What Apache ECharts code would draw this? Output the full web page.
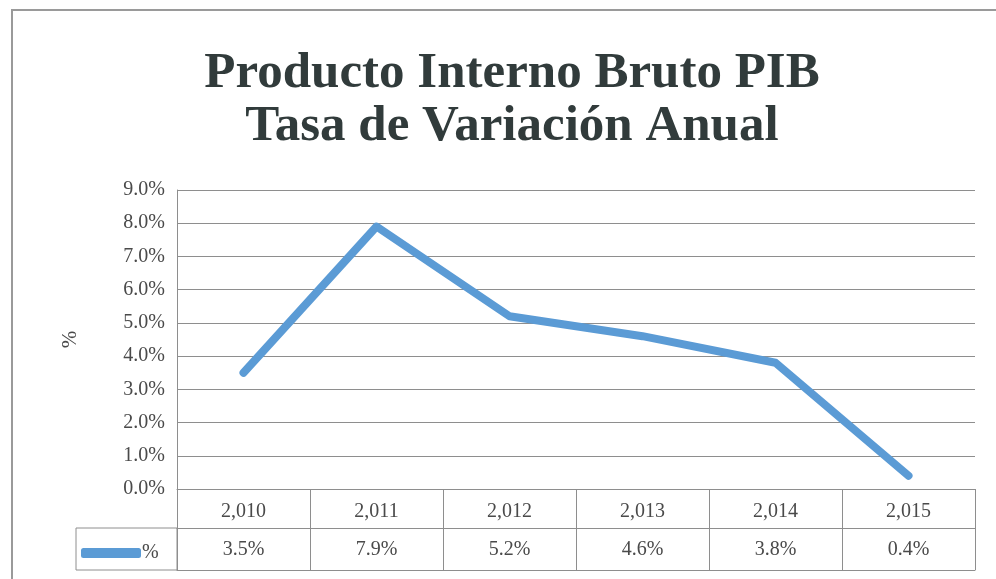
<!DOCTYPE html>
<html><head><meta charset="utf-8">
<script src="https://cdn.jsdelivr.net/npm/echarts@6/dist/echarts.min.js"></script>
<style>html,body{margin:0;padding:0;background:#fff}#c{width:996px;height:579px}</style>
</head><body><div id="c"></div>
<script>
const years = ['2,010', '2,011', '2,012', '2,013', '2,014', '2,015'];
const values = [3.5, 7.9, 5.2, 4.6, 3.8, 0.4];
const seriesName = '%';
const titleLines = ['Producto Interno Bruto PIB', 'Tasa de Variación Anual'];
const yMin = 0, yMax = 9, yStep = 1;

const valueLabels = values.map(v => v.toFixed(1) + '%');
const gridCol = '#8e8e8e';
const textCol = '#4a4a4a';
const serif = "'Liberation Serif', 'DejaVu Serif', serif";

const chart = echarts.init(document.getElementById('c'));
chart.setOption({
  backgroundColor: '#ffffff',
  animation: false,
  legend: {
    left: 76, top: 538,
    itemWidth: 60, itemHeight: 10, itemGap: 4,
    icon: 'roundRect',
    data: [seriesName],
    textStyle: { fontFamily: serif, fontSize: 20, color: textCol, padding: [0, 0, 0, -4] }
  },
  grid: { left: 177, right: 21, top: 190, bottom: 90 },
  xAxis: [
    {
      type: 'category', data: years, boundaryGap: true, position: 'bottom',
      axisLine: { show: true, lineStyle: { color: gridCol, width: 1 } },
      axisTick: { show: true, interval: 0, length: 81, lineStyle: { color: gridCol } },
      axisLabel: { interval: 0, margin: 13, fontFamily: serif, fontSize: 20, color: textCol }
    },
    {
      type: 'category', data: valueLabels, boundaryGap: true, position: 'bottom', offset: 39,
      axisLine: { show: true, lineStyle: { color: gridCol, width: 1 } },
      axisTick: { show: false },
      axisLabel: { interval: 0, margin: 12, fontFamily: serif, fontSize: 20, color: textCol }
    },
    {
      type: 'category', data: years, boundaryGap: true, position: 'bottom', offset: 81,
      axisLine: { show: true, lineStyle: { color: gridCol, width: 1 } },
      axisTick: { show: false }, axisLabel: { show: false }
    }
  ],
  yAxis: {
    type: 'value', min: yMin, max: yMax, interval: yStep,
    name: '%', nameLocation: 'middle', nameGap: 96, nameRotate: 90,
    nameTextStyle: { fontFamily: serif, fontSize: 21, color: textCol },
    axisLine: { show: true, lineStyle: { color: gridCol } },
    axisTick: { show: false },
    splitLine: { show: true, lineStyle: { color: gridCol, width: 1 } },
    axisLabel: { margin: 12, fontFamily: serif, fontSize: 20, color: textCol,
      formatter: v => v.toFixed(1) + '%' }
  },
  series: [{
    name: seriesName, type: 'line', data: values, xAxisIndex: 0,
    symbol: 'none', smooth: false,
    lineStyle: { width: 8, color: '#5b9bd5', cap: 'round', join: 'round' },
    itemStyle: { color: '#5b9bd5' }
  }],
  graphic: [
    { type: 'rect', shape: { x: 12, y: 10, width: 1000, height: 600 }, style: { fill: 'none', stroke: '#9a9a9a', lineWidth: 2 }, silent: true, z: -1 },
    { type: 'rect', shape: { x: 76, y: 528, width: 101, height: 42 }, style: { fill: 'none', stroke: gridCol, lineWidth: 1 }, silent: true },
    { type: 'text', x: 512, y: 47, silent: true,
      style: { text: titleLines.join('\n'), align: 'center', verticalAlign: 'top',
        font: "bold 51px " + serif, lineHeight: 53, fill: '#313b3b' } }
  ]
});
</script></body></html>
